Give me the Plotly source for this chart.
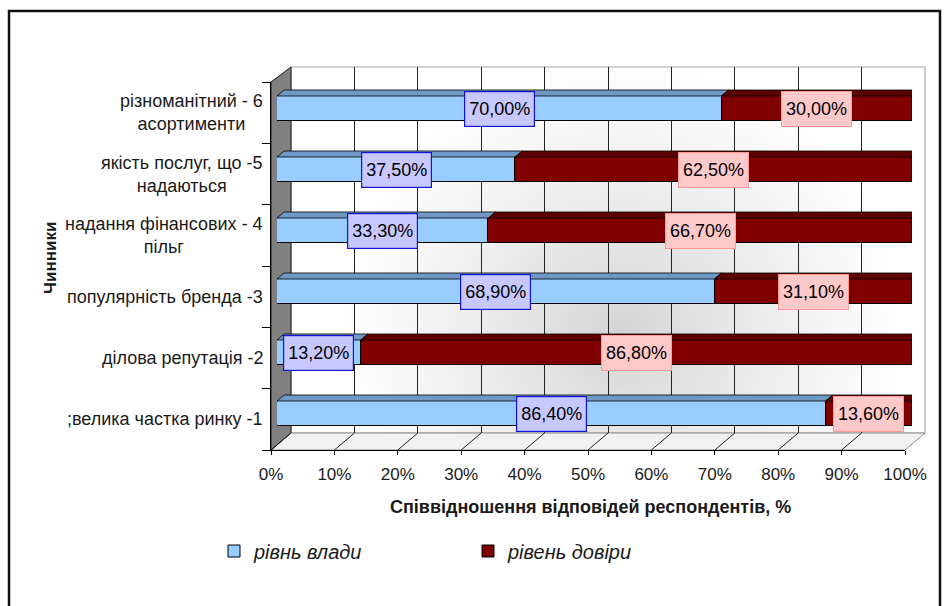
import base64
import struct
import zlib

import numpy as np
import plotly.graph_objects as go

# ---- data (bottom category first) ----
categories = [
    ";велика частка ринку -1",
    "ділова репутація -2",
    "популярність бренда -3",
    "надання фінансових - 4<br>пільг",
    "якість послуг, що -5<br>надаються",
    "різноманітний - 6<br>асортименти",
]
riven_vlady = [86.4, 13.2, 68.9, 33.3, 37.5, 70.0]
riven_doviry = [13.6, 86.8, 31.1, 66.7, 62.5, 30.0]
series_names = ["рівнь влади", "рівень довіри"]
x_ticks = [0, 10, 20, 30, 40, 50, 60, 70, 80, 90, 100]
x_tick_labels = ["0%", "10%", "20%", "30%", "40%", "50%", "60%", "70%", "80%", "90%", "100%"]

# ---- styling ----
W, H = 947, 606
FONT = "Arial, Liberation Sans, sans-serif"
BLUE, BLUE_TOP = "#99ccff", "#6e99c4"
RED, RED_TOP, RED_END = "#800000", "#5e0000", "#3a0000"


def px(x):
    return x / W


def py(y):
    return 1 - y / H


def fmt(v):
    return f"{v:.2f}".replace(".", ",") + "%"


def gray_png(arr):
    h, w = arr.shape
    raw = b"".join(b"\x00" + arr[i].tobytes() for i in range(h))

    def chunk(tag, data):
        c = struct.pack(">I", len(data)) + tag + data
        return c + struct.pack(">I", zlib.crc32(tag + data) & 0xFFFFFFFF)

    png = b"\x89PNG\r\n\x1a\n"
    png += chunk(b"IHDR", struct.pack(">IIBBBBB", w, h, 8, 0, 0, 0, 0))
    png += chunk(b"IDAT", zlib.compress(raw, 9))
    png += chunk(b"IEND", b"")
    return "data:image/png;base64," + base64.b64encode(png).decode()


# soft radial shading for the back wall
gh, gw = 90, 240
yy, xx = np.mgrid[0:gh, 0:gw]
r = np.sqrt(((xx / gw - 0.52) / 0.45) ** 2 + ((yy / gh - 0.72) / 0.75) ** 2)
wall_img = (255 - 42 * np.clip(1 - r, 0, 1) ** 1.2).astype(np.uint8)

# geometry of the pseudo-3D box (pixels)
WALL_L, WALL_R, WALL_T, WALL_B = 291, 925, 67, 433
FRONT_L, FRONT_R, FRONT_T, FRONT_B = 271, 905, 82, 450
BAR_L, BAR_R = 277, 912
BAR_TOP_PX, BAR_BOT_PX = 78, 444
DEPTH_PX_X, DEPTH_PX_Y = 7, 6
BAR_WIDTH = 0.41

n = len(categories)
pos = list(range(n))
cat_px = (BAR_BOT_PX - BAR_TOP_PX) / n
dx = DEPTH_PX_X / (BAR_R - BAR_L) * 100
dy = DEPTH_PX_Y / cat_px
floor_dx = (WALL_L - FRONT_L) / (FRONT_R - FRONT_L) * 100

fig = go.Figure()

# back wall grid subplot (drawn first, behind bars)
fig.add_trace(go.Scatter(x=[0, 100], y=[0, 1], mode="markers",
                         marker=dict(opacity=0), showlegend=False,
                         hoverinfo="skip", xaxis="x", yaxis="y"))

# stacked bars
fig.add_trace(go.Bar(y=pos, x=riven_vlady, orientation="h", name=series_names[0],
                     width=BAR_WIDTH, marker=dict(color=BLUE, line=dict(color="black", width=1)),
                     xaxis="x2", yaxis="y2", hoverinfo="skip"))
fig.add_trace(go.Bar(y=pos, x=riven_doviry, orientation="h", name=series_names[1],
                     width=BAR_WIDTH, marker=dict(color=RED, line=dict(color="black", width=1)),
                     xaxis="x2", yaxis="y2", hoverinfo="skip"))

# front axes subplot
fig.add_trace(go.Scatter(x=[0, 100], y=[-0.5, n - 0.5], mode="markers",
                         marker=dict(opacity=0), showlegend=False,
                         hoverinfo="skip", xaxis="x3", yaxis="y3"))

shapes = []
# back wall outline
shapes.append(dict(type="rect", xref="paper", yref="paper", layer="below",
                   x0=px(WALL_L), x1=px(WALL_R), y0=py(WALL_B), y1=py(WALL_T),
                   line=dict(color="#a6a6a6", width=1.2), fillcolor="rgba(0,0,0,0)"))
# floor
shapes.append(dict(type="path", xref="paper", yref="paper", layer="below",
                   path=(f"M{px(FRONT_L)},{py(FRONT_B)} L{px(WALL_L)},{py(WALL_B)} "
                         f"L{px(WALL_R)},{py(WALL_B)} L{px(FRONT_R)},{py(FRONT_B)} Z"),
                   fillcolor="#f1f1f1", line=dict(color="#8c8c8c", width=1)))
# left wall
shapes.append(dict(type="path", xref="paper", yref="paper", layer="below",
                   path=(f"M{px(FRONT_L)},{py(FRONT_T)} L{px(WALL_L)},{py(WALL_T)} "
                         f"L{px(WALL_L)},{py(WALL_B)} L{px(FRONT_L)},{py(FRONT_B)} Z"),
                   fillcolor="#808080", line=dict(color="#1a1a1a", width=1)))
# floor depth lines at every tick
for t in x_ticks:
    shapes.append(dict(type="line", xref="x3", yref="paper", layer="below",
                       x0=t, y0=py(FRONT_B), x1=t + floor_dx, y1=py(WALL_B),
                       line=dict(color="#222222", width=1)))

# bar top faces and the closing end face
for i in pos:
    yt = i + BAR_WIDTH / 2
    segs = [(0, riven_vlady[i], BLUE_TOP), (riven_vlady[i], riven_vlady[i] + riven_doviry[i], RED_TOP)]
    for a, b, col in segs:
        shapes.append(dict(type="path", xref="x2", yref="y2", layer="above",
                           path=f"M{a},{yt} L{b},{yt} L{b + dx},{yt + dy} L{a + dx},{yt + dy} Z",
                           fillcolor=col, line=dict(color="black", width=0.8)))
    end = riven_vlady[i] + riven_doviry[i]
    yb = i - BAR_WIDTH / 2
    shapes.append(dict(type="path", xref="x2", yref="y2", layer="above",
                       path=f"M{end},{yb} L{end},{yt} L{end + dx},{yt + dy} L{end + dx},{yb + dy} Z",
                       fillcolor=RED_END, line=dict(color="black", width=0.8)))

# outer frame
shapes.append(dict(type="rect", xref="paper", yref="paper", x0=px(9), x1=px(940),
                   y0=py(640), y1=py(11), line=dict(color="#111111", width=2.5)))

annotations = []
# data labels
for i in pos:
    v1, v2 = riven_vlady[i], riven_doviry[i]
    annotations.append(dict(x=v1 / 2, y=i, xref="x2", yref="y2", text=fmt(v1), showarrow=False,
                            font=dict(family=FONT, size=18, color="black"), height=26,
                            bgcolor="#c6c8ff", bordercolor="#1414d8", borderwidth=1.2, borderpad=4))
    annotations.append(dict(x=v1 + v2 / 2, y=i, xref="x2", yref="y2", text=fmt(v2), showarrow=False,
                            font=dict(family=FONT, size=18, color="black"), height=26,
                            bgcolor="#ffc9c9", bordercolor="#ff9a9a", borderwidth=1, borderpad=4))
# category labels
for i, c in zip(pos, categories):
    annotations.append(dict(x=px(265), y=i, xref="paper", yref="y3", text=c, showarrow=False,
                            xanchor="right", yanchor="middle", align="center",
                            font=dict(family=FONT, size=18, color="#1a1a1a")))
# axis titles
annotations.append(dict(x=px(590), y=py(507), xref="paper", yref="paper", showarrow=False,
                        xanchor="center", yanchor="middle",
                        text="Співвідношення відповідей респондентів, %",
                        font=dict(family=FONT, size=18, color="#1a1a1a", weight="bold")))
annotations.append(dict(x=px(51), y=py(258), xref="paper", yref="paper", showarrow=False,
                        xanchor="center", yanchor="middle",
                        text="Чинники", textangle=-90,
                        font=dict(family=FONT, size=17, color="#1a1a1a", weight="bold")))

fig.update_layout(
    template="none",
    width=W, height=H, autosize=False,
    margin=dict(l=0, r=0, t=0, b=0, pad=0, autoexpand=False),
    paper_bgcolor="white",
    plot_bgcolor="rgba(0,0,0,0)",
    barmode="stack",
    bargap=0,
    shapes=shapes,
    annotations=annotations,
    images=[dict(source=gray_png(wall_img), xref="paper", yref="paper",
                 x=px(WALL_L), y=py(WALL_T), sizex=px(WALL_R - WALL_L), sizey=(WALL_B - WALL_T) / H,
                 xanchor="left", yanchor="top", sizing="stretch", layer="below")],
    xaxis=dict(domain=[px(WALL_L), px(WALL_R)], range=[0, 100], tickmode="array", tickvals=x_ticks,
               showgrid=True, gridcolor="#222222", gridwidth=1, showticklabels=False,
               ticks="", zeroline=False, showline=False, anchor="y", automargin=False),
    yaxis=dict(domain=[py(WALL_B), py(WALL_T)], range=[0, 1], visible=False, anchor="x",
               automargin=False),
    xaxis2=dict(domain=[px(BAR_L), px(BAR_R)], range=[0, 100], visible=False, anchor="y2",
                automargin=False),
    yaxis2=dict(domain=[py(BAR_BOT_PX), py(BAR_TOP_PX)], range=[-0.5, n - 0.5],
                visible=False, anchor="x2", automargin=False),
    xaxis3=dict(domain=[px(FRONT_L), px(FRONT_R)], range=[0, 100],
                tickmode="array", tickvals=x_ticks, ticktext=x_tick_labels,
                ticks="outside", ticklen=4, tickcolor="black",
                showline=True, linecolor="black", linewidth=1, showgrid=False,
                zeroline=False, ticklabelstandoff=5, automargin=False,
                tickfont=dict(family=FONT, size=17, color="#1a1a1a"), anchor="y3"),
    yaxis3=dict(domain=[py(FRONT_B), py(FRONT_T)], range=[-0.5, n - 0.5],
                tickmode="array", tickvals=[k - 0.5 for k in range(n + 1)], showticklabels=False,
                ticks="outside", ticklen=8, tickcolor="black",
                showline=True, linecolor="black", linewidth=1, showgrid=False,
                zeroline=False, anchor="x3", automargin=False),
    legend=dict(orientation="h", x=px(214), y=py(551), xanchor="left", yanchor="middle",
                entrywidth=209, entrywidthmode="pixels", bgcolor="rgba(0,0,0,0)",
                font=dict(family=FONT, size=20, color="#1a1a1a", style="italic"),
                traceorder="normal"),
    showlegend=True,
)

fig.write_html("out.html", config={"responsive": False})
